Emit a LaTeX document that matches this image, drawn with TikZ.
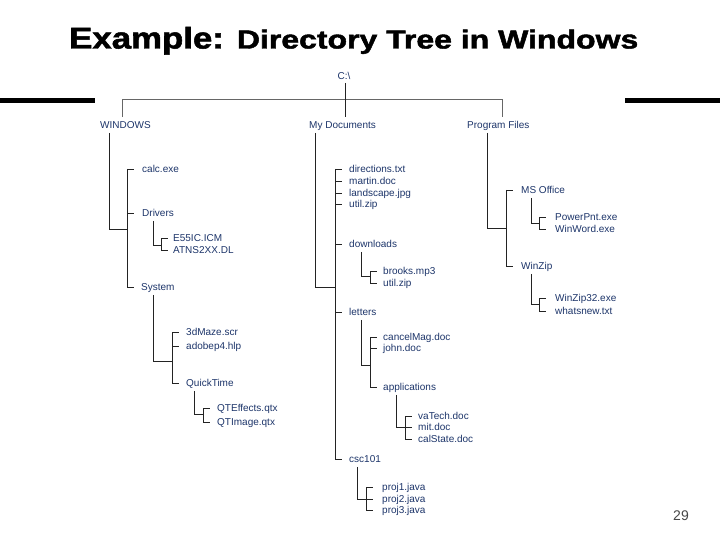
\documentclass[tikz,border=0pt]{standalone}
\usepackage{fontspec}
\setmainfont{Liberation Sans}
\newfontfamily\titlefont{Liberation Sans Bold}[FakeBold=1.6]
\usepackage{graphicx}
\definecolor{navy}{RGB}{28,52,105}
\definecolor{lnk}{RGB}{35,35,35}
\definecolor{pgnum}{RGB}{70,70,70}
\begin{document}
\begin{tikzpicture}[x=1pt,y=-1pt,
  lbl/.style={anchor=west,inner sep=0pt,text=navy,font=\fontsize{10}{12}\selectfont,text height=7.2pt,text depth=0pt},
  conn/.style={draw=lnk,line width=0.9pt},
  top/.style={draw=black!60,line width=0.9pt}]
\useasboundingbox (0,0) rectangle (720,540);
% title
\node[anchor=base west,inner sep=0pt] (title) at (69,48.5)
  {\titlefont\scalebox{1.16}[1]{\fontsize{30}{30}\selectfont Example:}\hspace{13pt}\scalebox{1.23}[1]{\fontsize{26}{26}\selectfont Directory Tree in Windows}};
% bars
\fill[black] (0,98.5) rectangle (95,103.5);
\fill[black] (625,98.5) rectangle (720,103.5);
% page number
\node[anchor=center,inner sep=0pt,text=pgnum,font=\fontsize{14}{16}\selectfont] (pg) at (681,516) {29};
% root and first level
\node[lbl,anchor=center] (C) at (344,76) {C:\textbackslash};
\node[lbl] (WIN) at (100,125) {WINDOWS};
\node[lbl] (MYD) at (309,125) {My Documents};
\node[lbl] (PF) at (467,125) {Program Files};
% WINDOWS
\node[lbl] (calc) at (142,169) {calc.exe};
\node[lbl] (drv) at (142,213) {Drivers};
\node[lbl] (sys) at (141,287) {System};
\node[lbl] (e55) at (173,238) {E55IC.ICM};
\node[lbl] (atns) at (173,250) {ATNS2XX.DL};
\node[lbl] (maze) at (186,332) {3dMaze.scr};
\node[lbl] (adobe) at (186,346) {adobep4.hlp};
\node[lbl] (qt) at (186,383) {QuickTime};
\node[lbl] (qte) at (217,408) {QTEffects.qtx};
\node[lbl] (qti) at (217,422) {QTImage.qtx};
% My Documents
\node[lbl] (dir) at (349,169) {directions.txt};
\node[lbl] (mar) at (349,181) {martin.doc};
\node[lbl] (land) at (349,193) {landscape.jpg};
\node[lbl] (util) at (349,204) {util.zip};
\node[lbl] (dl) at (349,244) {downloads};
\node[lbl] (brooks) at (383,271) {brooks.mp3};
\node[lbl] (utilb) at (383,283) {util.zip};
\node[lbl] (let) at (349,312) {letters};
\node[lbl] (cancel) at (383,337) {cancelMag.doc};
\node[lbl] (john) at (383,348) {john.doc};
\node[lbl] (app) at (383,387) {applications};
\node[lbl] (va) at (418,416) {vaTech.doc};
\node[lbl] (mit) at (418,427) {mit.doc};
\node[lbl] (cal) at (418,439) {calState.doc};
\node[lbl] (csc) at (349,459) {csc101};
\node[lbl] (pa) at (382,487) {proj1.java};
\node[lbl] (pb) at (382,499) {proj2.java};
\node[lbl] (pc) at (382,510) {proj3.java};
% Program Files
\node[lbl] (mso) at (521,190) {MS Office};
\node[lbl] (wz) at (521,266) {WinZip};
\node[lbl] (ppt) at (555,217) {PowerPnt.exe};
\node[lbl] (ww) at (555,229) {WinWord.exe};
\node[lbl] (wzx) at (555,298) {WinZip32.exe};
\node[lbl] (wn) at (555,311) {whatsnew.txt};
% top connectors
\coordinate (hl) at (122,99);
\coordinate (hr) at (502,99);
\draw[top] ([yshift=4pt]WIN.north -| hl) -- (hl) -- (hr) -- ([yshift=4pt]PF.north -| hr);
\draw[conn] ([yshift=-3pt]C.south -| 345,0) -- ([yshift=4pt]MYD.north -| 345,0);
% groups
\foreach \p/\vx/\jy/\bx/\first/\last/\kids in {
  WIN/109/229/127/calc/sys/{calc,drv,sys},
  drv/153/245/161/e55/atns/{e55,atns},
  sys/153/361/172/maze/qt/{maze,adobe,qt},
  qt/194/414/203/qte/qti/{qte,qti},
  MYD/315/287/335/dir/csc/{dir,mar,land,util,dl,let,csc},
  dl/361/276/370/brooks/utilb/{brooks,utilb},
  let/361/365/370/cancel/app/{cancel,john,app},
  app/396/427/405/va/cal/{va,mit,cal},
  csc/357/499/366/pa/pc/{pa,pb,pc},
  PF/487/228/506/mso/wz/{mso,wz},
  mso/531/223/539/ppt/ww/{ppt,ww},
  wz/531/304/539/wzx/wn/{wzx,wn}} {
  \coordinate (\p-j) at (\vx,\jy);
  \coordinate (\p-b) at (\bx,\jy);
  \draw[conn] ([yshift=-4pt]\p.south -| \p-j) -- (\p-j) -- (\p-b);
  \draw[conn] (\first.west -| \p-b) -- (\last.west -| \p-b);
  \foreach \k in \kids { \draw[conn] (\k.west -| \p-b) -- ++(7,0); }
}
\end{tikzpicture}
\end{document}
